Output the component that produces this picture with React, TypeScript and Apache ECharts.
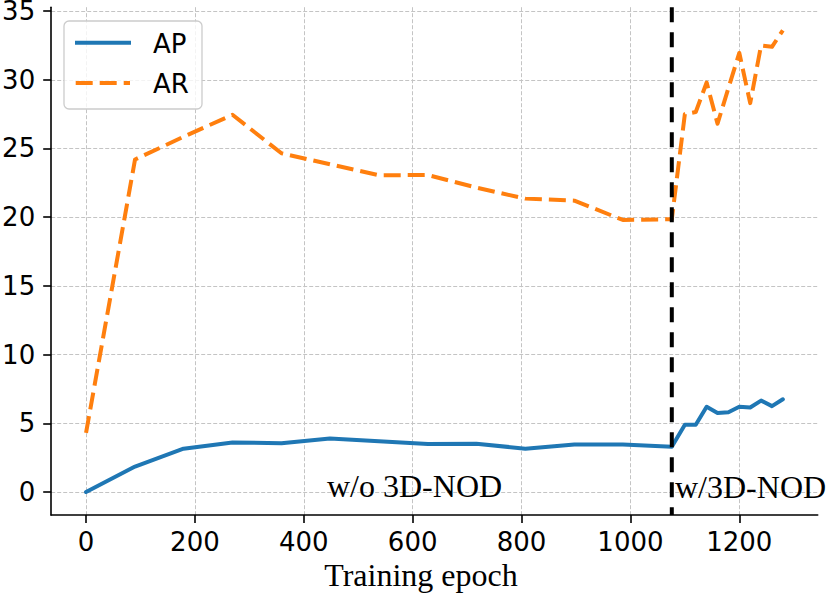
import React, { useEffect, useRef } from 'react';
import * as echarts from 'echarts';

const epochs = [0, 90, 179, 269, 359, 448, 538, 628, 717, 807, 897, 986, 1076, 1100, 1120, 1140, 1160, 1180, 1200, 1220, 1240, 1260, 1280];
const apValues = [0, 1.85, 3.15, 3.6, 3.55, 3.9, 3.7, 3.5, 3.52, 3.15, 3.45, 3.45, 3.3, 4.9, 4.9, 6.2, 5.75, 5.8, 6.2, 6.15, 6.65, 6.25, 6.75];
const arValues = [4.3, 24.2, 25.85, 27.45, 24.65, 23.85, 23.05, 23.07, 22.15, 21.35, 21.2, 19.8, 19.85, 27.5, 27.65, 29.8, 26.8, 29.4, 31.95, 28.3, 32.5, 32.4, 33.6];
const xTicks = [0, 200, 400, 600, 800, 1000, 1200];
const yTicks = [0, 5, 10, 15, 20, 25, 30, 35];
const switchEpoch = [1076];
const seriesNames = ['AP', 'AR'];
const phaseLabels = ['w/o 3D-NOD', 'w/3D-NOD'];
const xAxisTitle = 'Training epoch';

const X_MIN = -64;
const X_MAX = 1344;
const Y_MIN = -1.68;
const Y_MAX = 35.28;

const BLUE = '#1f77b4';
const ORANGE = '#ff7f0e';

export default function App() {
  const ref = useRef<HTMLDivElement>(null);
  useEffect(() => {
    if (!ref.current) return;
    const chart = echarts.init(ref.current, null, { renderer: 'svg' });
    const apData = epochs.map((e, i) => [e, apValues[i]]);
    const arData = epochs.map((e, i) => [e, arValues[i]]);
    const vline = [[switchEpoch[0], Y_MAX], [switchEpoch[0], Y_MIN]];
    const serifFont = '"Liberation Serif", "Times New Roman", serif';
    const sansFont = '"DejaVu Sans", sans-serif';
    const plain = (v: number) => String(v);
    chart.setOption({
      animation: false,
      backgroundColor: '#ffffff',
      grid: { left: 51.2, right: 12.3, top: 7.2, bottom: 79.9, containLabel: false, outerBoundsMode: 'none' },
      xAxis: {
        type: 'value',
        min: X_MIN,
        max: X_MAX,
        axisLine: { show: true, onZero: false, lineStyle: { color: '#000', width: 1.6 } },
        axisTick: { show: true, customValues: xTicks, length: 8, lineStyle: { color: '#000', width: 1.6 } },
        axisLabel: { customValues: xTicks, formatter: plain, fontSize: 26, fontFamily: sansFont, color: '#000', margin: 14 },
        splitLine: { show: true, lineStyle: { color: '#c4c4c4', width: 1, type: [4, 2] } },
      },
      yAxis: {
        type: 'value',
        min: Y_MIN,
        max: Y_MAX,
        axisLine: { show: true, onZero: false, lineStyle: { color: '#000', width: 1.6 } },
        axisTick: { show: true, customValues: yTicks, length: 8, lineStyle: { color: '#000', width: 1.6 } },
        axisLabel: { customValues: yTicks, formatter: plain, fontSize: 26, lineHeight: 21, fontFamily: sansFont, color: '#000', margin: 16 },
        splitLine: { show: true, lineStyle: { color: '#c4c4c4', width: 1, type: [4, 2] } },
      },
      series: [
        {
          name: seriesNames[0],
          type: 'line',
          data: apData,
          symbol: 'none',
          lineStyle: { color: BLUE, width: 4, join: 'round', cap: 'round' },
          z: 2,
        },
        {
          name: seriesNames[1],
          type: 'line',
          data: arData,
          symbol: 'none',
          lineStyle: { color: ORANGE, width: 4, type: [17, 7], join: 'round', cap: 'butt' },
          z: 3,
        },
        {
          name: 'switch',
          type: 'line',
          data: vline,
          symbol: 'none',
          silent: true,
          lineStyle: { color: '#000', width: 4, type: [15, 10], cap: 'butt' },
          z: 4,
        },
      ],
      graphic: [
        {
          type: 'rect',
          shape: { x: 64, y: 21, width: 138, height: 88, r: 5 },
          style: { fill: 'rgba(255,255,255,0.8)', stroke: '#cccccc', lineWidth: 1.3 },
          z: 10,
        },
        {
          type: 'line',
          shape: { x1: 75, y1: 42.7, x2: 131, y2: 42.7 },
          style: { stroke: BLUE, lineWidth: 4 },
          z: 11,
        },
        {
          type: 'line',
          shape: { x1: 75.7, y1: 83, x2: 130, y2: 83 },
          style: { stroke: ORANGE, lineWidth: 4, lineDash: [17, 7] },
          z: 11,
        },
        {
          type: 'text',
          x: 153,
          y: 44,
          style: { text: seriesNames[0], fontSize: 26, fontFamily: sansFont, fill: '#000', verticalAlign: 'middle', align: 'left' },
          z: 11,
        },
        {
          type: 'text',
          x: 153,
          y: 84,
          style: { text: seriesNames[1], fontSize: 26, fontFamily: sansFont, fill: '#000', verticalAlign: 'middle', align: 'left' },
          z: 11,
        },
        {
          type: 'text',
          x: 327,
          y: 486,
          style: { text: phaseLabels[0], fontSize: 32, fontFamily: serifFont, fill: '#000', verticalAlign: 'middle', align: 'left' },
          z: 12,
        },
        {
          type: 'text',
          x: 675,
          y: 487,
          style: { text: phaseLabels[1], fontSize: 32, fontFamily: serifFont, fill: '#000', verticalAlign: 'middle', align: 'left' },
          z: 12,
        },
        {
          type: 'text',
          x: 421,
          y: 575,
          style: { text: xAxisTitle, fontSize: 32, fontFamily: serifFont, fill: '#000', verticalAlign: 'middle', align: 'center' },
          z: 12,
        },
      ],
    });
    return () => chart.dispose();
  }, []);
  return <div ref={ref} style={{ position: 'absolute', left: 0, top: 0, width: 830, height: 595 }} />;
}
